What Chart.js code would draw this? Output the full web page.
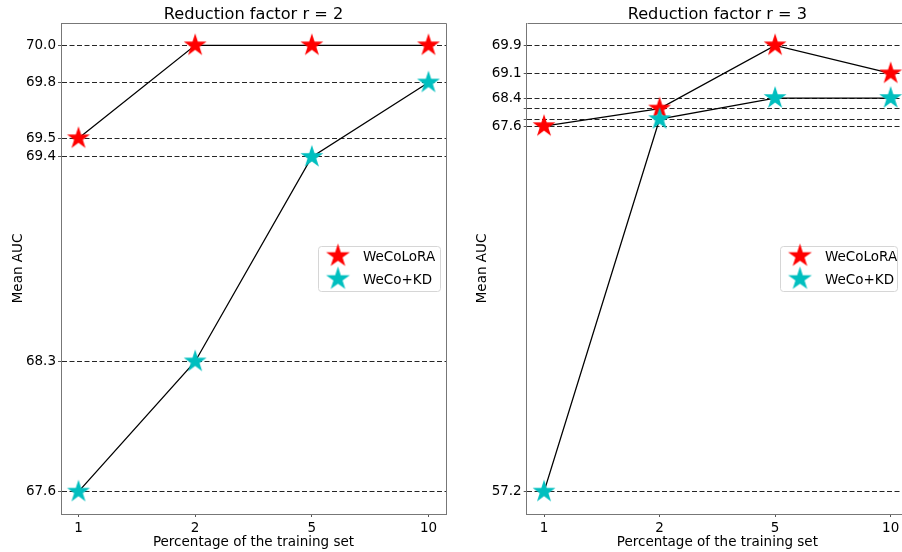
<!DOCTYPE html>
<html>
<head>
<meta charset="utf-8">
<script src="https://cdn.jsdelivr.net/npm/chart.js@4.4.1/dist/chart.umd.min.js"></script>
<style>
  html, body { margin: 0; padding: 0; background: #fff; }
  body { width: 902px; height: 552px; overflow: hidden; position: relative; }
  canvas { position: absolute; top: 0; }
  #chartR2 { left: 0; }
  #chartR3 { left: 460px; }
</style>
</head>
<body>
<canvas id="chartR2" width="460" height="552"></canvas>
<canvas id="chartR3" width="470" height="552"></canvas>
<script>
// x categories (percentage of the training set)
const categories = ['1', '2', '5', '10'];

// reduction factor r = 2
const wecoloraR2 = [69.5, 70.0, 70.0, 70.0];
const wecoKdR2 = [67.6, 68.3, 69.4, 69.8];
const gridR2 = [67.6, 68.3, 69.4, 69.5, 69.8, 70.0];
const tickLabelsR2 = [67.6, 68.3, 69.4, 69.5, 69.8, 70.0];

// reduction factor r = 3
const wecoloraR3 = [67.6, 68.1, 69.9, 69.1];
const wecoKdR3 = [57.2, 67.8, 68.4, 68.4];
const gridR3 = [57.2, 67.6, 67.8, 68.1, 68.4, 69.1, 69.9];
const tickLabelsR3 = [57.2, 67.6, 68.4, 69.1, 69.9];

const RED = '#ff0000';
const CYAN = '#00bfbf';
const FONT = 'DejaVu Sans';

Chart.defaults.font.family = FONT;
Chart.defaults.color = '#000';

// filled 5-point star like matplotlib's '*' marker
function makeStar(color, r) {
    const size = Math.ceil(r * 2) + 2;
    const c = document.createElement('canvas');
    c.width = size;
    c.height = size;
    const g = c.getContext('2d');
    g.beginPath();
    for (let k = 0; k < 10; k++) {
        const rad = k % 2 === 0 ? r : r * 0.381966;
        const a = -Math.PI / 2 + k * Math.PI / 5;
        const px = size / 2 + rad * Math.cos(a);
        const py = size / 2 + rad * Math.sin(a);
        if (k === 0) g.moveTo(px, py); else g.lineTo(px, py);
    }
    g.closePath();
    g.fillStyle = color;
    g.fill();
    return c;
}

const redStar = makeStar(RED, 12);
const cyanStar = makeStar(CYAN, 12);
const legendStars = [makeStar(RED, 12.5), makeStar(CYAN, 12.5)];

// title on top of the plot area + top/right spines
const framePlugin = {
    id: 'frame',
    afterDatasetsDraw(chart, args, o) {
        const { ctx, chartArea: a } = chart;
        ctx.save();
        ctx.strokeStyle = '#777';
        ctx.lineWidth = 1;
        ctx.beginPath();
        ctx.moveTo(Math.round(a.left) + 0.5, Math.round(a.top) + 0.5);
        ctx.lineTo(Math.round(a.right) + 0.5, Math.round(a.top) + 0.5);
        ctx.lineTo(Math.round(a.right) + 0.5, Math.round(a.bottom) + 0.5);
        ctx.stroke();
        ctx.fillStyle = '#000';
        ctx.font = '16.2px "' + FONT + '"';
        ctx.textAlign = 'center';
        ctx.textBaseline = 'alphabetic';
        ctx.fillText(o.text, (a.left + a.right) / 2, 19);
        ctx.restore();
    }
};

// legend box at 'center right' inside the axes
const starLegend = {
    id: 'starLegend',
    afterDraw(chart, args, o) {
        const { ctx, chartArea: a } = chart;
        const w = o.width, h = 45;
        const x0 = Math.round(a.right - o.inset - w);
        const y0 = Math.round((a.top + a.bottom) / 2 - h / 2);
        ctx.save();
        ctx.beginPath();
        ctx.roundRect(x0 + 0.5, y0 + 0.5, w, h, 3);
        ctx.fillStyle = 'rgba(255,255,255,0.8)';
        ctx.fill();
        ctx.strokeStyle = '#d6d6d6';
        ctx.lineWidth = 1;
        ctx.stroke();
        ctx.font = '13.5px "' + FONT + '"';
        ctx.fillStyle = '#000';
        ctx.textBaseline = 'middle';
        chart.data.datasets.forEach((ds, i) => {
            const cy = y0 + 10 + i * 23;
            const img = legendStars[i];
            ctx.drawImage(img, x0 + 20 - img.width / 2, cy - img.height / 2);
            ctx.fillText(ds.label, x0 + 45, cy + 1);
        });
        ctx.restore();
    }
};

function buildChart(id, cfg) {
    const ys = cfg.grid;
    const span = ys[ys.length - 1] - ys[0];
    return new Chart(document.getElementById(id), {
        type: 'line',
        data: {
            datasets: [
                {
                    label: 'WeCoLoRA',
                    data: cfg.lora.map((v, i) => ({ x: i, y: v })),
                    borderColor: '#000',
                    borderWidth: 1.3,
                    pointStyle: redStar,
                    pointRadius: 12,
                    tension: 0,
                    fill: false,
                    clip: false,
                    order: 1
                },
                {
                    label: 'WeCo+KD',
                    data: cfg.kd.map((v, i) => ({ x: i, y: v })),
                    borderColor: '#000',
                    borderWidth: 1.3,
                    pointStyle: cyanStar,
                    pointRadius: 12,
                    tension: 0,
                    fill: false,
                    clip: false,
                    order: 0
                }
            ]
        },
        options: {
            responsive: false,
            animation: false,
            devicePixelRatio: 1,
            layout: { padding: { top: 23, right: cfg.padRight, left: 0, bottom: 0 } },
            plugins: {
                legend: { display: false },
                tooltip: { enabled: false },
                frame: { text: cfg.title },
                starLegend: { width: cfg.legendWidth, inset: cfg.legendInset }
            },
            scales: {
                x: {
                    type: 'linear',
                    min: -0.15,
                    max: categories.length - 1 + 0.15,
                    afterBuildTicks: s => { s.ticks = categories.map((c, i) => ({ value: i })); },
                    afterFit: s => { s.height = 38; },
                    ticks: {
                        autoSkip: false,
                        maxRotation: 0,
                        padding: 3,
                        font: { size: 13.5 },
                        callback: v => categories[v]
                    },
                    grid: { drawOnChartArea: false, tickLength: 3, tickColor: '#555' },
                    border: { color: '#777' },
                    title: {
                        display: true,
                        text: 'Percentage of the training set',
                        font: { size: 13.5 },
                        padding: { top: 0, bottom: 1 }
                    }
                },
                y: {
                    type: 'linear',
                    min: ys[0] - span * 0.05,
                    max: ys[ys.length - 1] + span * 0.05,
                    afterBuildTicks: s => { s.ticks = ys.map(v => ({ value: v })); },
                    afterFit: s => { s.width = cfg.yWidth; },
                    ticks: {
                        autoSkip: false,
                        padding: 2,
                        font: { size: 13.5 },
                        callback: v => cfg.labels.includes(v) ? v.toFixed(1) : ''
                    },
                    grid: { color: 'rgba(0,0,0,0.85)', lineWidth: 1, tickLength: 3, tickColor: '#555' },
                    border: { color: '#777', dash: [5, 2.5] },
                    title: {
                        display: true,
                        text: 'Mean AUC',
                        font: { size: 13.5 },
                        padding: { top: cfg.yTitlePad, bottom: 0 }
                    }
                }
            }
        },
        plugins: [framePlugin, starLegend]
    });
}

buildChart('chartR2', {
    title: 'Reduction factor r = 2',
    lora: wecoloraR2, kd: wecoKdR2, grid: gridR2, labels: tickLabelsR2,
    yWidth: 61, padRight: 14, yTitlePad: 10, legendWidth: 122, legendInset: 6
});

buildChart('chartR3', {
    title: 'Reduction factor r = 3',
    lora: wecoloraR3, kd: wecoKdR3, grid: gridR3, labels: tickLabelsR3,
    yWidth: 66.7, padRight: 22, yTitlePad: 14, legendWidth: 117, legendInset: 11
});
</script>
</body>
</html>
